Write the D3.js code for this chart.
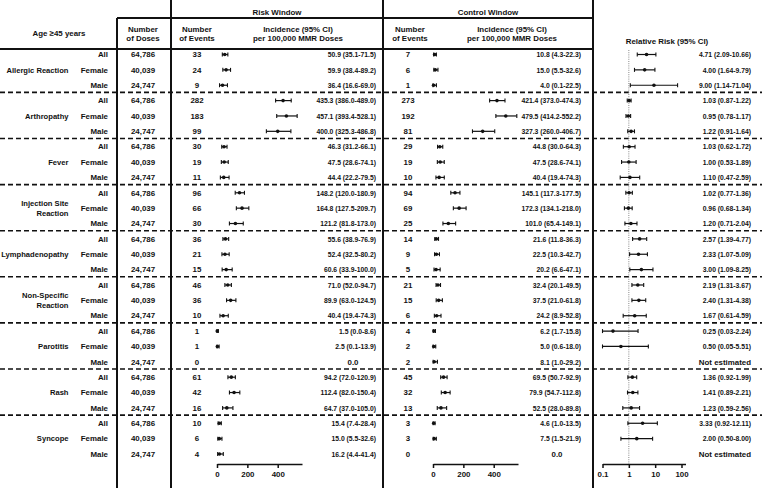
<!DOCTYPE html>
<html>
<head>
<meta charset="utf-8">
<script src="https://cdn.jsdelivr.net/npm/d3@7"></script>
<style>
  body { margin: 0; background: #fff; }
  svg text { font-family: "Liberation Sans", Arial, sans-serif; font-weight: bold; font-size: 7.9px; fill: #111; }
  svg text.grp { font-size: 7.6px; }
</style>
</head>
<body>
<svg id="chart" width="762" height="489"></svg>
<script>
const groups = [["Allergic Reaction"], ["Arthropathy"], ["Fever"], ["Injection Site", "Reaction"], ["Lymphadenopathy"], ["Non-Specific", "Reaction"], ["Parotitis"], ["Rash"], ["Syncope"]];
const sexes = ["All", "Female", "Male"];
const doses = ["64,786", "40,039", "24,747"];

// one value per row: groups in order, All / Female / Male
const riskEvents = [33, 24, 9, 282, 183, 99, 30, 19, 11, 96, 66, 30, 36, 21, 15, 46, 36, 10, 1, 1, 0, 61, 42, 16, 10, 6, 4];
const riskInc = [50.9, 59.9, 36.4, 435.3, 457.1, 400.0, 46.3, 47.5, 44.4, 148.2, 164.8, 121.2, 55.6, 52.4, 60.6, 71.0, 89.9, 40.4, 1.5, 2.5, 0.0, 94.2, 112.4, 64.7, 15.4, 15.0, 16.2];
const riskLo = [35.1, 38.4, 16.6, 386.0, 393.4, 325.3, 31.2, 28.6, 22.2, 120.0, 127.5, 81.8, 38.9, 32.5, 33.9, 52.0, 63.0, 19.4, 0.0, 0.1, null, 72.0, 82.0, 37.0, 7.4, 5.5, 4.4];
const riskHi = [71.5, 89.2, 69.0, 489.0, 528.1, 486.8, 66.1, 74.1, 79.5, 180.9, 209.7, 173.0, 76.9, 80.2, 100.0, 94.7, 124.5, 74.3, 8.6, 13.9, null, 120.9, 150.4, 105.0, 28.4, 32.6, 41.4];

const ctrlEvents = [7, 6, 1, 273, 192, 81, 29, 19, 10, 94, 69, 25, 14, 9, 5, 21, 15, 6, 4, 2, 2, 45, 32, 13, 3, 3, 0];
const ctrlInc = [10.8, 15.0, 4.0, 421.4, 479.5, 327.3, 44.8, 47.5, 40.4, 145.1, 172.3, 101.0, 21.6, 22.5, 20.2, 32.4, 37.5, 24.2, 6.2, 5.0, 8.1, 69.5, 79.9, 52.5, 4.6, 7.5, 0.0];
const ctrlLo = [4.3, 5.5, 0.1, 373.0, 414.2, 260.0, 30.0, 28.6, 19.4, 117.3, 134.1, 65.4, 11.8, 10.3, 6.6, 20.1, 21.0, 8.9, 1.7, 0.6, 1.0, 50.7, 54.7, 28.0, 1.0, 1.5, null];
const ctrlHi = [22.3, 32.6, 22.5, 474.3, 552.2, 406.7, 64.3, 74.1, 74.3, 177.5, 218.0, 149.1, 36.3, 42.7, 47.1, 49.5, 61.8, 52.8, 15.8, 18.0, 29.2, 92.9, 112.8, 89.8, 13.5, 21.9, null];

const rr = [4.71, 4.00, 9.00, 1.03, 0.95, 1.22, 1.03, 1.00, 1.10, 1.02, 0.96, 1.20, 2.57, 2.33, 3.00, 2.19, 2.40, 1.67, 0.25, 0.50, null, 1.36, 1.41, 1.23, 3.33, 2.00, null];
const rrLo = [2.09, 1.64, 1.14, 0.87, 0.78, 0.91, 0.62, 0.53, 0.47, 0.77, 0.68, 0.71, 1.39, 1.07, 1.09, 1.31, 1.31, 0.61, 0.03, 0.05, null, 0.92, 0.89, 0.59, 0.92, 0.50, null];
const rrHi = [10.66, 9.79, 71.04, 1.22, 1.17, 1.64, 1.72, 1.89, 2.59, 1.36, 1.34, 2.04, 4.77, 5.09, 8.25, 3.67, 4.38, 4.59, 2.24, 5.51, null, 1.99, 2.21, 2.56, 12.11, 8.00, null];

const incTicks = [0, 200, 400];
const rrTicks = [0.1, 1, 10, 100];

const svg = d3.select('#chart');
const nRows = riskEvents.length;
const y = d3.scaleLinear().domain([0, nRows - 1]).range([54.5, 454]);
const axisY = 464;
const bottom = 488;

const xRisk = d3.scaleLinear().domain([0, 560]).range([217, 302]);
const xCtrl = d3.scaleLinear().domain([0, 560]).range([433, 518]);
const xRR = d3.scaleLog().domain([0.1, 142]).range([602.5, 685.5]).clamp(true);

function label(x, yy, txt, anchor) {
  return svg.append('text')
    .attr('x', x).attr('y', yy).attr('dy', '0.35em')
    .attr('text-anchor', anchor || 'middle')
    .text(txt);
}

// the CI strings are set tighter than the rest in the original
function ciLabel(x, yy, txt) {
  svg.append('g')
    .attr('transform', `translate(${x},${yy}) scale(0.86,1)`)
    .append('text')
    .attr('dy', '0.35em')
    .attr('text-anchor', 'end')
    .text(txt);
}

function rule(x1, y1, x2, y2, w) {
  return svg.append('line')
    .attr('x1', x1).attr('y1', y1).attr('x2', x2).attr('y2', y2)
    .attr('stroke', '#111').attr('stroke-width', w || 2);
}

// header
label(59, 33.5, 'Age \u226545 years');
label(143, 29, 'Number'); label(143, 38, 'of Doses');
label(277, 12, 'Risk Window');
label(197, 29, 'Number'); label(197, 38, 'of Events');
label(298, 29, 'Incidence (95% CI)'); label(298, 38, 'per 100,000 MMR Doses');
label(488, 12, 'Control Window');
label(410, 29, 'Number'); label(410, 38, 'of Events');
label(512, 29, 'Incidence (95% CI)'); label(512, 38, 'per 100,000 MMR Doses');
label(667, 41, 'Relative Risk (95% CI)');

// frame
rule(117, 18, 117, bottom);
rule(171, 0, 171, bottom);
rule(383, 0, 383, bottom);
rule(593, 0, 593, bottom);
rule(117, 18, 593, 18);
rule(0, 49, 593, 49);

groups.forEach((g, gi) => {
  if (gi > 0) {
    const yd = (y(gi * 3 - 1) + y(gi * 3)) / 2 - 0.5;
    rule(0, yd, 762, yd, 1.6).attr('stroke-dasharray', '5,3');
  }
  const cy = y(gi * 3 + 1);
  g.forEach((line, li) => {
    label(68.5, cy + (li - (g.length - 1) / 2) * 9.5, line, 'end').attr('class', 'grp');
  });
});

// text columns
const fmt1 = d => d.toFixed(1), fmt2 = d => d.toFixed(2);
d3.range(nRows).forEach(i => {
  const yy = y(i);
  label(108, yy, sexes[i % 3], 'end');
  label(143, yy, doses[i % 3]);
  label(197, yy, riskEvents[i]);
  label(408, yy, ctrlEvents[i]);

  if (riskLo[i] == null) label(353, yy, fmt1(riskInc[i]));
  else ciLabel(376, yy, `${fmt1(riskInc[i])} (${fmt1(riskLo[i])}-${fmt1(riskHi[i])})`);

  if (ctrlLo[i] == null) label(557, yy, fmt1(ctrlInc[i]));
  else ciLabel(581, yy, `${fmt1(ctrlInc[i])} (${fmt1(ctrlLo[i])}-${fmt1(ctrlHi[i])})`);

  if (rr[i] == null) label(751, yy, 'Not estimated', 'end');
  else ciLabel(751, yy, `${fmt2(rr[i])} (${fmt2(rrLo[i])}-${fmt2(rrHi[i])})`);
});

// reference line at RR = 1
rule(xRR(1), 50, xRR(1), axisY, 1)
  .attr('stroke', '#888').attr('stroke-dasharray', '1,1.2');

function drawBars(x, mid, lo, hi) {
  const g = svg.append('g');
  const rows = d3.range(nRows).filter(i => lo[i] != null);
  rows.forEach(i => {
    const yy = y(i);
    const x0 = x(lo[i]), x1 = x(hi[i]);
    g.append('line').attr('x1', x0).attr('x2', x1).attr('y1', yy).attr('y2', yy)
      .attr('stroke', '#111').attr('stroke-width', 1.2);
    [x0, x1].forEach(xc => {
      g.append('line').attr('x1', xc).attr('x2', xc).attr('y1', yy - 2).attr('y2', yy + 2)
        .attr('stroke', '#111').attr('stroke-width', 1.1);
    });
    g.append('circle').attr('cx', x(mid[i])).attr('cy', yy).attr('r', 1.8).attr('fill', '#111');
  });
}

drawBars(xRisk, riskInc, riskLo, riskHi);
drawBars(xCtrl, ctrlInc, ctrlLo, ctrlHi);
drawBars(xRR, rr, rrLo, rrHi);

function drawAxis(x, ticks, fmt) {
  const g = svg.append('g')
    .attr('transform', `translate(0,${axisY})`)
    .call(d3.axisBottom(x).tickValues(ticks).tickFormat(fmt).tickSize(4).tickSizeOuter(0).tickPadding(3));
  g.select('.domain').attr('stroke', '#111').attr('stroke-width', 1.5);
  g.selectAll('.tick line').attr('stroke', '#111').attr('stroke-width', 1.5);
  g.selectAll('text').attr('font-size', null).attr('font-family', null).attr('fill', '#111');
}

drawAxis(xRisk, incTicks, d => d);
drawAxis(xCtrl, incTicks, d => d);
drawAxis(xRR, rrTicks, d => d);
</script>
</body>
</html>
